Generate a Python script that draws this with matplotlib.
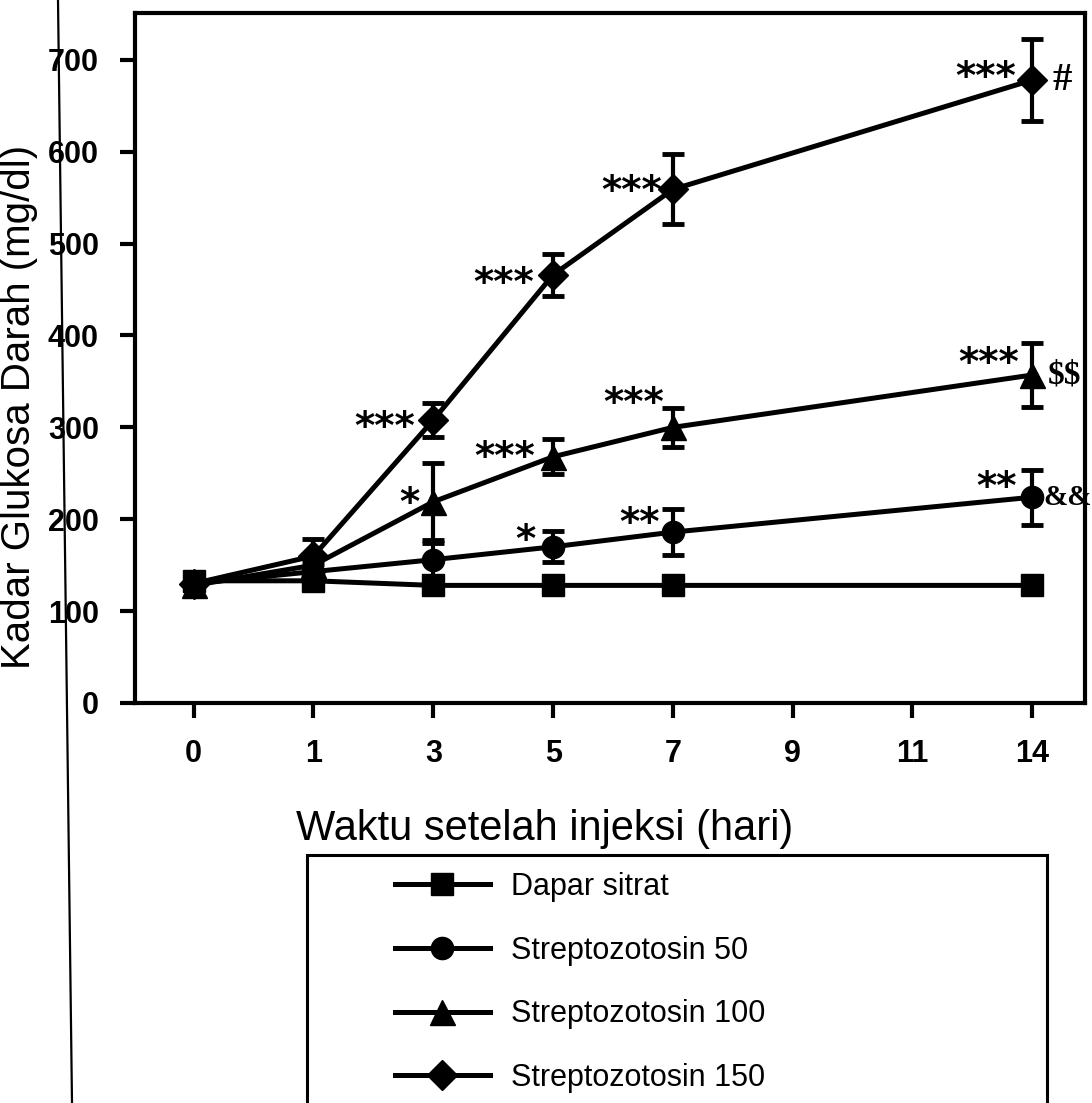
import matplotlib
matplotlib.use("Agg")
import matplotlib.pyplot as plt
from matplotlib.lines import Line2D
from matplotlib.patches import Rectangle

# hari setelah injeksi (sumbu x kategori, jarak sama)
day_labels = ["0", "1", "3", "5", "7", "9", "11", "14"]
day_idx = [0, 1, 2, 3, 4, 7]   # posisi hari yang diukur: 0,1,3,5,7,14

# kadar glukosa darah (mg/dl) dan SEM
dapar = [133, 133, 128, 128, 128, 128]
dapar_err = [5, 3, 3, 3, 3, 3]
stz50 = [130, 143, 156, 170, 186, 224]
stz50_err = [3, 8, 18, 17, 25, 30]
stz100 = [128, 150, 219, 268, 300, 357]
stz100_err = [3, 10, 42, 19, 21, 35]
stz150 = [130, 160, 308, 466, 559, 678]
stz150_err = [3, 18, 19, 23, 38, 45]

names = ["Dapar sitrat", "Streptozotosin 50", "Streptozotosin 100", "Streptozotosin 150"]
markers = ["s", "o", "^", "D"]
msizes = [16, 16, 18, 15]

# tanda signifikansi: (seri, indeks titik, teks)
stars = [
    (3, 2, "***"), (2, 2, "*"), (3, 3, "***"), (2, 3, "***"), (2, 4, "***"),
    (1, 3, "*"), (1, 4, "**"), (3, 4, "***"), (3, 5, "***"), (2, 5, "***"),
    (1, 5, "**"),
]
star_dx = [-18, -14, -19, -18, -9, -18, -13, -11, -16, -13, -16]
star_dy = [3, 9, 2, 10, 34, 17, 19, 8, 13, 22, 20]
marks = [(3, 5, "#"), (2, 5, "$$"), (1, 5, "&&")]
mark_dx = [20, 15, 11]
mark_size = [28, 24, 21]

series = [dapar, stz50, stz100, stz150]
errs = [dapar_err, stz50_err, stz100_err, stz150_err]

fig = plt.figure(figsize=(10.92, 11.03), dpi=100)
ax = fig.add_axes([135 / 1092, 1 - 703 / 1103, 950 / 1092, 690 / 1103])

lines = []
for s, e, m, ms in zip(series, errs, markers, msizes):
    ln, = ax.plot(day_idx, s, color="black", lw=3.6, marker=m, ms=ms,
                  mfc="black", mec="black", zorder=3)
    ax.errorbar(day_idx, s, yerr=e, fmt="none", ecolor="black", elinewidth=3,
                capsize=8, capthick=3.5, zorder=4)
    lines.append(ln)

for (si, pi, txt), dx, dy in zip(stars, star_dx, star_dy):
    ax.annotate(txt, (day_idx[pi], series[si][pi]), xytext=(dx, dy - 22),
                textcoords="offset pixels", ha="right", va="baseline",
                fontsize=28, fontweight="bold", family="DejaVu Sans")
for (si, pi, txt), dx, fs in zip(marks, mark_dx, mark_size):
    ax.annotate(txt, (day_idx[pi], series[si][pi]), xytext=(dx, 0),
                textcoords="offset pixels", ha="left", va="center",
                fontsize=fs, fontweight="bold", family="Liberation Serif",
                parse_math=False)

ax.set_xlim(-0.49, 7.44)
ax.set_ylim(0, 751)
ax.set_xticks(range(len(day_labels)))
ax.set_xticklabels(day_labels)
ax.set_yticks(range(0, 701, 100))
for sp in ax.spines.values():
    sp.set_linewidth(3)
ax.tick_params(width=3, length=11, pad=15, labelsize=22)
for lb in ax.get_xticklabels() + ax.get_yticklabels():
    lb.set_fontweight("bold")
    lb.set_family("Liberation Sans")

fig.text(545 / 1092, 1 - 829 / 1103, "Waktu setelah injeksi (hari)",
         ha="center", va="center", fontsize=30, family="Liberation Sans")
fig.text(0, 1 - 407 / 1103, "Kadar Glukosa Darah (mg/dl)", rotation=90,
         ha="left", va="center", fontsize=29, family="Liberation Sans")

# garis tepi kiri hasil pindaian
fig.add_artist(Line2D([58 / 1092, 72 / 1092], [1, 0], color="black", lw=1.6,
                      transform=fig.transFigure))

# kotak legenda
fig.add_artist(Rectangle((307 / 1092, -0.05), 740 / 1092, 0.05 + 1 - 855 / 1103,
                         fill=False, lw=2.2, ec="black", transform=fig.transFigure))
fig.legend(lines, names, loc="upper left", bbox_to_anchor=(395 / 1092, 1 - 872 / 1103),
           frameon=False, handlelength=3.1, handletextpad=0.7,
           labelspacing=1.1, borderpad=0, borderaxespad=0,
           prop={"family": "Liberation Sans", "size": 22})

fig.savefig("out.png", dpi=100)
